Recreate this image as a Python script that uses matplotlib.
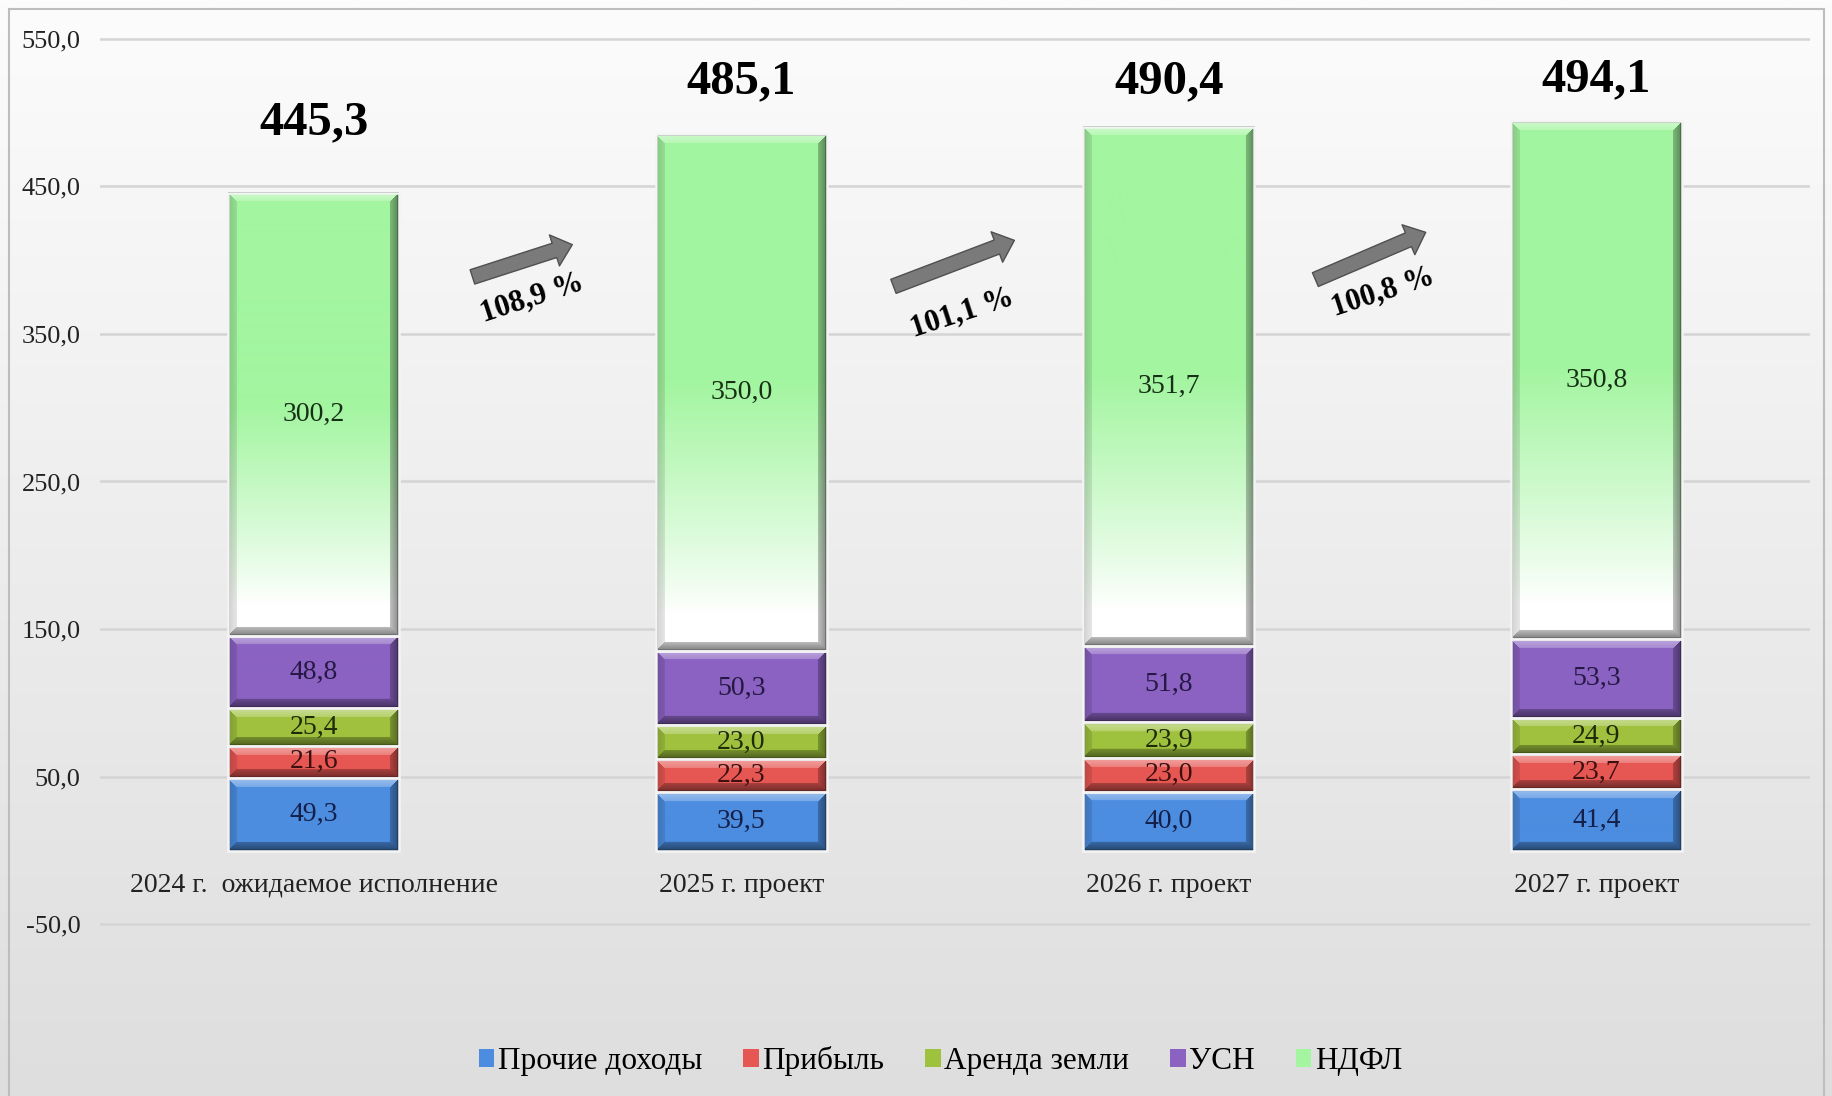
import numpy as np
import matplotlib
matplotlib.use("Agg")
import matplotlib.pyplot as plt
from matplotlib.patches import Patch, FancyArrowPatch, Rectangle
from matplotlib.colors import to_rgb

# ---------------- data ----------------
categories = ["2024 г.  ожидаемое исполнение", "2025 г. проект", "2026 г. проект", "2027 г. проект"]
series_names = ["Прочие доходы", "Прибыль", "Аренда земли", "УСН", "НДФЛ"]
prochie = [49.3, 39.5, 40.0, 41.4]
pribyl = [21.6, 22.3, 23.0, 23.7]
arenda = [25.4, 23.0, 23.9, 24.9]
usn = [48.8, 50.3, 51.8, 53.3]
ndfl = [300.2, 350.0, 351.7, 350.8]
totals = [445.3, 485.1, 490.4, 494.1]
growth_labels = ["108,9 %", "101,1 %", "100,8 %"]
y_ticks = [-50, 50, 150, 250, 350, 450, 550]

# ---------------- style / layout ----------------
colors = ["#4c8de0", "#e65753", "#9fc23e", "#8b62c2", "#a3f5a0"]
text_colors = ["#14204a", "#3a1010", "#1e2a08", "#261844", "#153015"]
total_label_y = [493, 521, 521, 522.5]
arrow_tails = [(0.365, 388), (1.35, 381.5), (2.337, 386)]
arrow_heads = [(0.611, 411), (1.645, 414), (2.607, 419.5)]
growth_pos = [(0.51, 374), (1.516, 364), (2.50, 378)]
SERIF = ["Liberation Serif", "DejaVu Serif"]

W, H = 1833, 1096
fig = plt.figure(figsize=(W / 100, H / 100), dpi=100)

# background gradient
bg = fig.add_axes([0, 0, 1, 1], zorder=-10)
grad = np.linspace(0, 1, 256)[:, None]
top_c = np.array(to_rgb("#fcfcfc"))
bot_c = np.array(to_rgb("#dedede"))
img = top_c[None, None, :] * (1 - grad[:, :, None]) + bot_c[None, None, :] * grad[:, :, None]
bg.imshow(img, aspect="auto", extent=(0, 1, 0, 1), interpolation="bilinear")
bg.set_xlim(0, 1); bg.set_ylim(0, 1); bg.axis("off")
bg.add_patch(Rectangle((9 / W, -0.01), (W - 18) / W, 1 - 9 / H + 0.01, fill=False,
                       edgecolor="#bdbdbd", lw=1.5, transform=bg.transAxes))

ax = fig.add_axes([100 / W, 1 - 1013 / H, 1710 / W, (1013 - 23.8) / H])
ax.set_facecolor("none")
ax.set_xlim(-0.5, 3.5)
ax.set_ylim(-110, 560)

x = np.arange(len(categories))
width = 0.4
series = [prochie, pribyl, arenda, usn, ndfl]
bottom = np.zeros(len(categories))
containers = []
for vals, col in zip(series, colors):
    c = ax.bar(x, vals, width, bottom=bottom, color=col, zorder=2)
    containers.append(c)
    bottom = bottom + np.array(vals)

# grid and axes
ax.set_yticks(y_ticks)
ax.set_yticklabels([f"{v:.1f}".replace(".", ",") for v in y_ticks], family=SERIF, fontsize=19, color="#222222")
ax.yaxis.grid(True, color="#d4d4d4", lw=1.8, zorder=0)
ax.tick_params(axis="y", length=0, pad=14)
for s in ["left", "right", "top"]:
    ax.spines[s].set_visible(False)
ax.spines["bottom"].set_position(("data", 0))
ax.spines["bottom"].set_visible(False)
ax.set_xticks(x)
ax.set_xticklabels(categories, family=SERIF, fontsize=20, color="#222222")
ax.tick_params(axis="x", length=0, pad=16)

# bevel images
fig.canvas.draw()
def bevel(base_rows, w, h, b=9):
    ys = np.arange(h)[:, None].astype(float)
    xs = np.arange(w)[None, :].astype(float)
    dt = ys + 0 * xs
    db = (h - 1 - ys) + 0 * xs
    dl = xs + 0 * ys
    dr = (w - 1 - xs) + 0 * ys
    stack = np.stack([dt, db, dl, dr])
    m = stack.min(axis=0)
    which = stack.argmin(axis=0)
    out = base_rows.copy()
    inb = m < b
    wgt = np.clip(1 - m / b, 0, 1)[..., None] * 0.5 + 0.5
    white = np.ones(3)
    light = out * 0.55 + white * 0.45
    dark = out * 0.5
    lightside = out * 0.82
    darkside = out * 0.55
    res = out.copy()
    for k, tgt in enumerate([light, dark, lightside, darkside]):
        mask = (inb & (which == k))[..., None]
        res = np.where(mask, out * (1 - wgt) + tgt * wgt, res)
    edge = (m < 1.5)[..., None]
    res = np.where(edge, out * 0.45, res)
    return np.clip(res, 0, 1)

for si, (c, col) in enumerate(zip(containers, colors)):
    for p in c.patches:
        x0, y0 = p.get_x(), p.get_y()
        x1, y1 = x0 + p.get_width(), y0 + p.get_height()
        (px0, py0), (px1, py1) = ax.transData.transform([(x0, y0), (x1, y1)])
        w = max(int(round(px1 - px0)), 4)
        h = max(int(round(py1 - py0)), 4)
        base = np.array(to_rgb(col))
        if si == 4:
            t = 1 - np.arange(h) / (h - 1)  # 1 at top, 0 at bottom
            s = np.clip((t - 0.07) / 0.45, 0, 1) ** 0.9
            rows = base[None, :] * s[:, None] + np.ones(3)[None, :] * (1 - s[:, None])
            base_rows = np.repeat(rows[:, None, :], w, axis=1)
        else:
            base_rows = np.ones((h, w, 3)) * base[None, None, :]
        im = bevel(base_rows, w, h)
        ax.imshow(im, extent=(x0, x1, y0, y1), aspect="auto", zorder=2.5, interpolation="bilinear")
        p.set_facecolor("none")
        p.set_edgecolor("#f4f4f4")
        p.set_linewidth(1.8)
        p.set_zorder(3)
ax.set_xlim(-0.5, 3.5)
ax.set_ylim(-110, 560)

# segment labels
for vals, c, tc in zip(series, containers, text_colors):
    for v, p in zip(vals, c.patches):
        ax.text(p.get_x() + p.get_width() / 2, p.get_y() + p.get_height() / 2,
                f"{v:.1f}".replace(".", ","), ha="center", va="center",
                family=SERIF, fontsize=20, color=tc, zorder=4)

# totals
for xi, tv, ty in zip(x, totals, total_label_y):
    ax.text(xi, ty, f"{tv:.1f}".replace(".", ","), ha="center", va="center",
            family=SERIF, fontsize=35, fontweight="bold", color="black", zorder=4)

# arrows and growth
for (tx, ty), (hx, hy), lab, (gx, gy) in zip(arrow_tails, arrow_heads, growth_labels, growth_pos):
    arr = FancyArrowPatch((tx, ty), (hx, hy),
                          arrowstyle="simple,head_length=0.75,head_width=1.3,tail_width=0.6",
                          mutation_scale=18, facecolor="#7a7a7a", edgecolor="#505050",
                          lw=1.0, zorder=4)
    ax.add_patch(arr)
    ax.text(gx, gy, lab, ha="center", va="center", rotation=18, rotation_mode="anchor",
            family=SERIF, fontsize=22, fontweight="bold", color="black", zorder=4)

# legend
handles = [Patch(facecolor=col, edgecolor="none") for col in colors]
fig.legend(handles, series_names, loc="center", bbox_to_anchor=(0.513, 0.032), ncol=5,
           frameon=False, prop={"family": SERIF, "size": 22.5}, handlelength=0.5,
           handleheight=0.5, handletextpad=0.12, columnspacing=1.3)

fig.savefig("out.png", dpi=100)
